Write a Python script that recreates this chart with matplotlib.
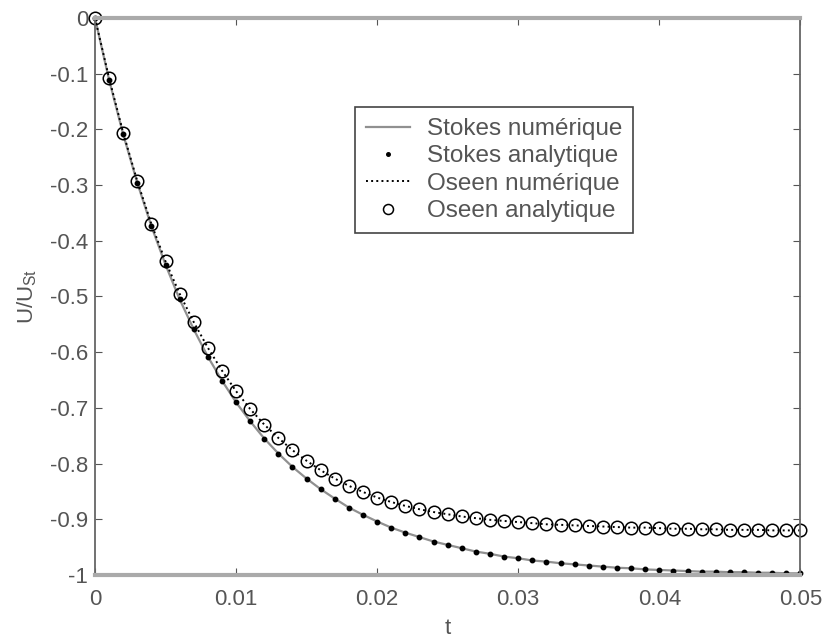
import numpy as np
import matplotlib
matplotlib.use("Agg")
import matplotlib.pyplot as plt

plt.rcParams['font.family'] = ['Liberation Sans', 'DejaVu Sans']
plt.rcParams['mathtext.fontset'] = 'custom'
plt.rcParams['mathtext.rm'] = 'Liberation Sans'

# temps (pas de 0.001)
t = np.arange(51) * 0.001

# Stokes
stokes = [0.0, -0.111, -0.209, -0.296, -0.374, -0.443, -0.505, -0.559, -0.608, -0.651,
          -0.690, -0.724, -0.755, -0.782, -0.806, -0.827, -0.846, -0.863, -0.879, -0.892,
          -0.904, -0.915, -0.924, -0.932, -0.940, -0.946, -0.952, -0.958, -0.962, -0.967,
          -0.970, -0.974, -0.976, -0.979, -0.981, -0.983, -0.985, -0.987, -0.988, -0.990,
          -0.991, -0.992, -0.993, -0.994, -0.994, -0.995, -0.995, -0.996, -0.996, -0.997,
          -0.997]

# Oseen
oseen = [0.0, -0.108, -0.206, -0.293, -0.370, -0.437, -0.495, -0.546, -0.592, -0.633,
         -0.670, -0.702, -0.730, -0.754, -0.776, -0.795, -0.812, -0.827, -0.840, -0.851,
         -0.861, -0.869, -0.876, -0.882, -0.887, -0.891, -0.895, -0.898, -0.901, -0.903,
         -0.905, -0.907, -0.909, -0.910, -0.911, -0.912, -0.913, -0.914, -0.915, -0.915,
         -0.916, -0.917, -0.917, -0.918, -0.918, -0.919, -0.919, -0.919, -0.920, -0.920,
         -0.920]

xticks = [0, 0.01, 0.02, 0.03, 0.04, 0.05]
xticklabels = ['0', '0.01', '0.02', '0.03', '0.04', '0.05']
yticks = [0, -0.1, -0.2, -0.3, -0.4, -0.5, -0.6, -0.7, -0.8, -0.9, -1]
yticklabels = ['0', '-0.1', '-0.2', '-0.3', '-0.4', '-0.5', '-0.6', '-0.7', '-0.8', '-0.9', '-1']

txt = '#555555'
fig = plt.figure(figsize=(8.28, 6.42), dpi=100)
ax = fig.add_axes([0.1147, 0.1044, 0.852, 0.8676])

ax.plot(t, stokes, '-', color='#909090', lw=1.6, label='Stokes numérique')
ax.plot(t, stokes, 'o', color='black', ms=3.2, clip_on=False, label='Stokes analytique')
ax.plot(t, oseen, ':', color='black', lw=1.4, label='Oseen numérique')
ax.plot(t, oseen, 'o', mfc='none', mec='black', mew=1.1, ms=9, clip_on=False,
        label='Oseen analytique')

ax.set_xlim(0, 0.05)
ax.set_ylim(-1, 0)
ax.set_xticks(xticks)
ax.set_xticklabels(xticklabels)
ax.set_yticks(yticks)
ax.set_yticklabels(yticklabels)
ax.tick_params(direction='in', top=True, right=True, length=5, labelsize=16,
               colors='#555555', labelcolor=txt)
ax.tick_params(axis='x', pad=10)
ax.tick_params(axis='y', pad=5)
for s in ax.spines.values():
    s.set_color('#666666')
    s.set_linewidth(1.3)
ax.spines['top'].set_color('#aaaaaa')
ax.spines['top'].set_linewidth(3)
ax.spines['bottom'].set_color('#aaaaaa')
ax.spines['bottom'].set_linewidth(3)

ax.set_xlabel('t', fontsize=16, color=txt, labelpad=6)
ax.set_ylabel(r'U/U$_{\mathregular{St}}$', fontsize=16, color=txt, labelpad=8)

leg = ax.legend(loc='upper left', bbox_to_anchor=(0.369, 0.84), borderaxespad=0,
                fontsize=17.5, fancybox=False, edgecolor='#444444', framealpha=1,
                handlelength=1.8, labelspacing=0.22, borderpad=0.45, handletextpad=0.7,
                markerscale=0.8)
leg.get_frame().set_linewidth(1.2)
for tx in leg.get_texts():
    tx.set_color(txt)

fig.savefig('out.png', dpi=100)
